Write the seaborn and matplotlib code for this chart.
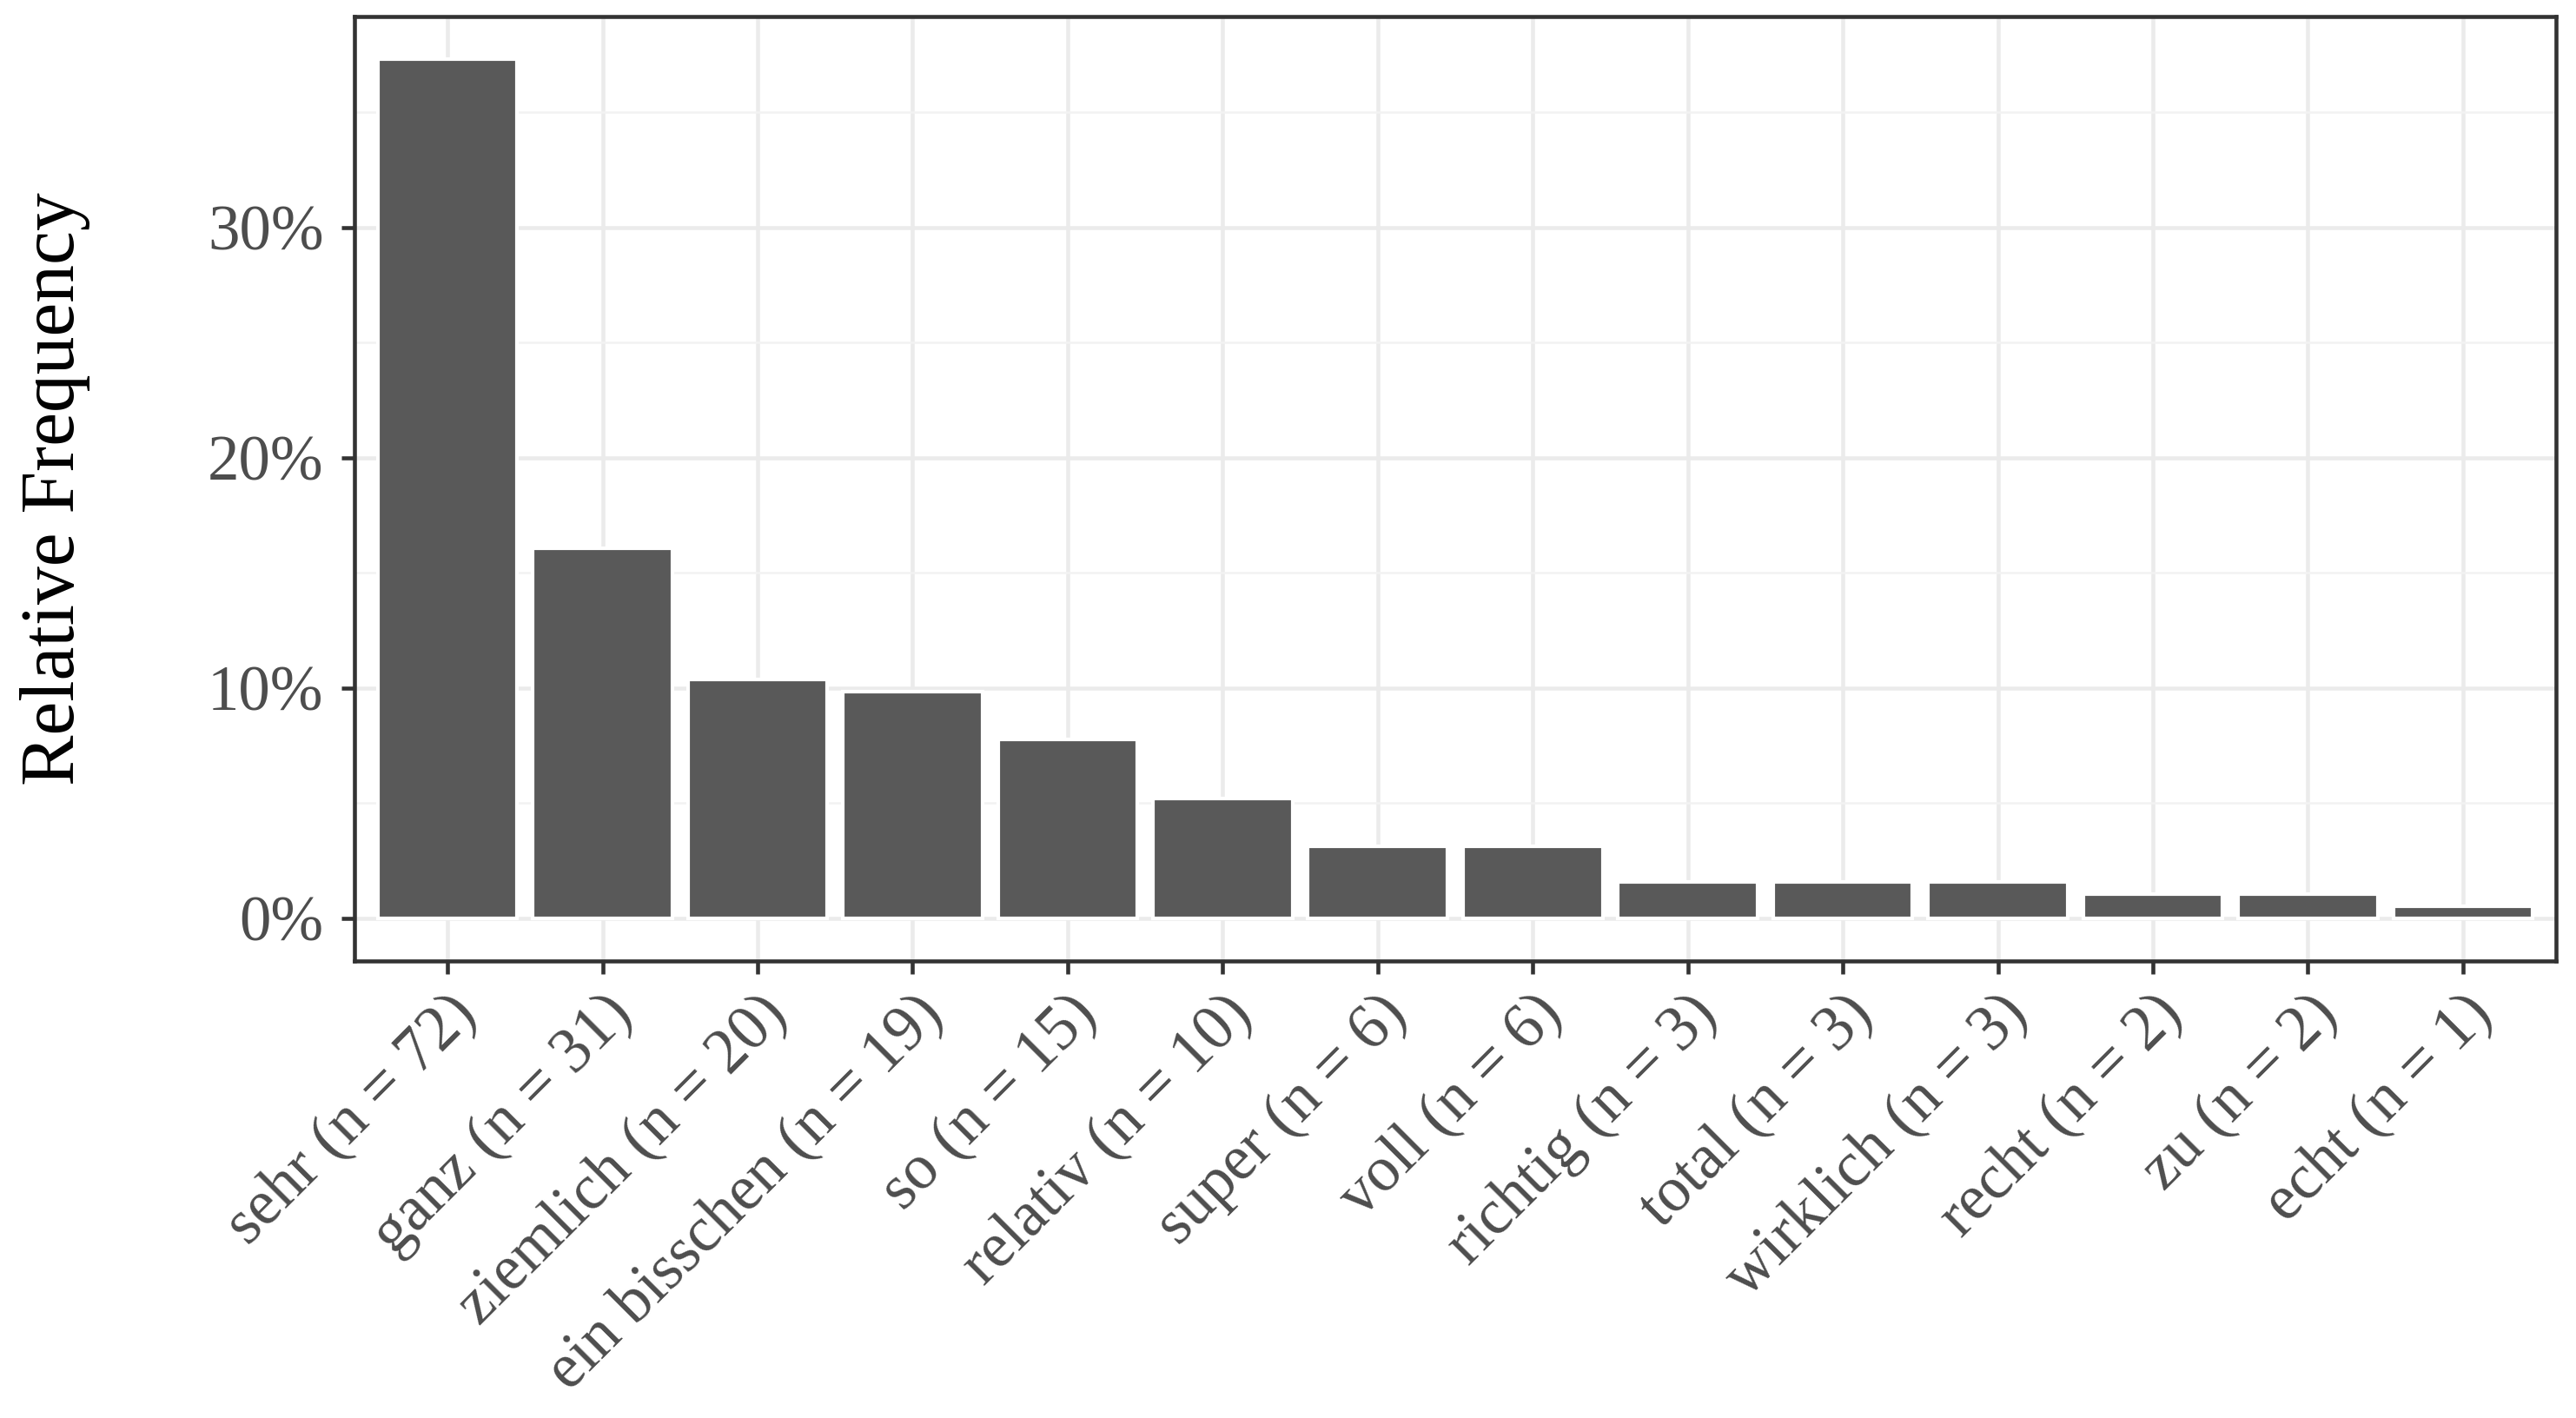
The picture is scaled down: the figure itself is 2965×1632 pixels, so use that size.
import matplotlib
matplotlib.use("Agg")
import matplotlib.pyplot as plt
import seaborn as sns
import pandas as pd
from matplotlib.ticker import PercentFormatter, MultipleLocator

# Intensifier counts
words = ["sehr", "ganz", "ziemlich", "ein bisschen", "so", "relativ", "super",
         "voll", "richtig", "total", "wirklich", "recht", "zu", "echt"]
counts = [72, 31, 20, 19, 15, 10, 6, 6, 3, 3, 3, 2, 2, 1]

df = pd.DataFrame({"word": words, "n": counts})
df["share"] = df["n"] / df["n"].sum()
df["label"] = [f"{w} (n = {n})" for w, n in zip(df["word"], df["n"])]

sns.set_theme(style="whitegrid")
plt.rcParams["font.family"] = ["Liberation Serif", "DejaVu Serif"]

fig, ax = plt.subplots(figsize=(2965 / 300, 1632 / 300), dpi=300)
fig.subplots_adjust(left=408 / 2965, right=2942 / 2965, top=1 - 19 / 1632, bottom=1 - 1106 / 1632)

sns.barplot(data=df, x="label", y="share", color="#595959", saturation=1,
            width=0.9, ax=ax, zorder=3)

ymax = df["share"].max()
pad = ymax * 0.05
ax.set_ylim(-pad, ymax + pad)
ax.set_xlim(-0.6, len(df) - 0.4)

ax.yaxis.set_major_locator(MultipleLocator(0.10))
ax.yaxis.set_minor_locator(MultipleLocator(0.05))
ax.yaxis.set_major_formatter(PercentFormatter(xmax=1, decimals=0))

ax.set_facecolor("white")
ax.grid(which="major", color="#EBEBEB", linewidth=1.1, zorder=0)
ax.grid(which="minor", axis="y", color="#F2F2F2", linewidth=0.6, zorder=0)
ax.set_axisbelow(True)
for s in ax.spines.values():
    s.set_visible(True)
    s.set_color("#333333")
    s.set_linewidth(1.1)

ax.tick_params(axis="both", which="major", length=3.5, width=1.1, color="#333333",
               labelsize=17.5, labelcolor="#4D4D4D", pad=3, bottom=True, left=True)
ax.tick_params(axis="y", which="major", pad=5)
ax.tick_params(axis="both", which="minor", length=0)
plt.setp(ax.get_xticklabels(), rotation=45, ha="right", rotation_mode="anchor")

ax.set_xlabel("")
ax.set_ylabel("Relative Frequency", fontsize=21, color="black")
ax.yaxis.set_label_coords(-0.12, 0.5)

fig.savefig("out.png", dpi=300)
